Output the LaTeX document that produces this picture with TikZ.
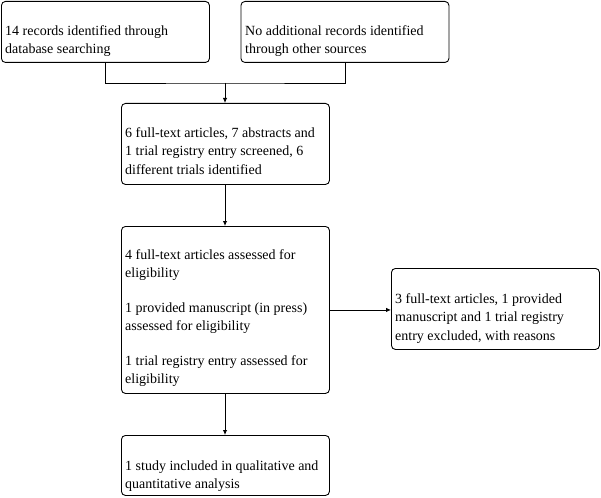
\documentclass[tikz,border=0pt]{standalone}
\usepackage{fontspec}
\setmainfont{Liberation Serif}
\usetikzlibrary{arrows.meta}
\begin{document}
\begin{tikzpicture}[x=1pt,y=-1pt,
  box/.style={draw=black,line width=0.9pt,rounded corners=4pt,minimum width=208pt,inner sep=0pt,anchor=north west},
  txt/.style={anchor=north west,inner sep=0pt,align=left,font=\fontsize{14}{18.5}\selectfont},
  link/.style={line width=0.9pt},
  arr/.style={line width=0.9pt,-{Latex[length=5pt,width=4.5pt]}}]
\useasboundingbox (0,0) rectangle (601,497);
% boxes
\node[box,minimum height=61pt] (b1) at (1,1) {};
\node[box,minimum height=61pt] (b2) at (240.5,1) {};
\node[box,minimum height=81pt] (b3) at (121,103) {};
\node[box,minimum height=167pt] (b4) at (121,226) {};
\node[box,minimum height=81pt] (b5) at (391,268) {};
\node[box,minimum height=60pt] (b6) at (121,435) {};
% texts
\node[txt] (t1) at (5,22) {\strut 14 records identified through\\database searching};
\node[txt] (t2) at (245,22) {\strut No additional records identified\\through other sources};
\node[txt] (t3) at (125,124) {\strut 6 full-text articles, 7 abstracts and\\1 trial registry entry screened, 6\\different trials identified};
\node[txt] (t4) at (125,246) {\strut 4 full-text articles assessed for\\eligibility\\[16pt]1 provided manuscript (in press)\\assessed for eligibility\\[16pt]1 trial registry entry assessed for\\eligibility};
\node[txt] (t5) at (395,290) {\strut 3 full-text articles, 1 provided\\manuscript and 1 trial registry\\entry excluded, with reasons};
\node[txt] (t6) at (125,457) {\strut 1 study included in qualitative and\\quantitative analysis};
% connectors
\coordinate (j) at (225,83);
\draw[link] (b1.south) |- (j) -| (b2.south);
\draw[arr] (j) -- (j |- b3.north);
\draw[arr] (b3.south -| j) -- (b4.north -| j);
\draw[arr] (b4.east) -- (b4.east -| b5.west);
\draw[arr] (b4.south -| j) -- (b6.north -| j);
\end{tikzpicture}
\end{document}
